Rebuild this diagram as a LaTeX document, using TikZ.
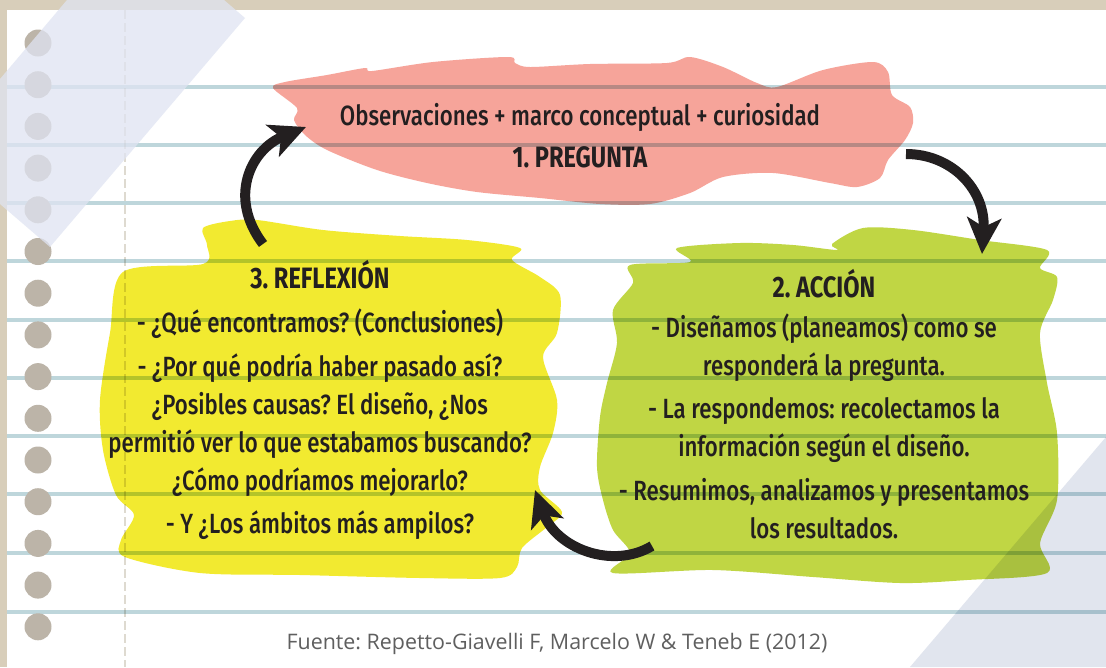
\documentclass[tikz,border=0pt]{standalone}
\usepackage{fontspec}
\usepackage{tikz}
\usetikzlibrary{arrows.meta,positioning}
\setmainfont{Open Sans}
\newfontfamily\handfont{Fira Sans}[FakeStretch=0.8,UprightFont=* Medium,BoldFont=* Bold]
\newcommand{\headline}[1]{{\bfseries\fontsize{29.5}{38}\selectfont #1}}
\frenchspacing
\pgfdeclarelayer{background layer}
\pgfsetlayers{background layer,main}
\definecolor{beige}{RGB}{216,206,186}
\definecolor{ruleline}{RGB}{190,214,219}
\definecolor{marginline}{RGB}{222,218,208}
\definecolor{hole}{RGB}{188,180,168}
\definecolor{pinkblob}{RGB}{246,164,154}
\definecolor{yellowblob}{RGB}{242,234,48}
\definecolor{greenblob}{RGB}{192,214,68}
\definecolor{ink}{RGB}{35,31,32}
\definecolor{tape}{RGB}{224,228,242}
\definecolor{tapetwo}{RGB}{225,229,238}
\definecolor{fuente}{RGB}{95,95,95}

\begin{document}
\begin{tikzpicture}[x=1pt,y=-1pt]
\tikzstyle{boxtext}=[align=center,inner sep=0pt,text=ink,font=\handfont\fontsize{27.8}{38}\selectfont]
\tikzstyle{bigarrow}=[line width=10pt,draw=ink,-{Stealth[length=36pt,width=34pt,inset=9pt]}]
\useasboundingbox (0,0) rectangle (1106,667);
\begin{pgfonlayer}{background layer}
\fill [beige] (0,0) rectangle (1106,667);
\fill [white] (7,10) rectangle (1106,667);
\end{pgfonlayer}
% the three blobs
\fill [pinkblob] plot [smooth cycle] coordinates {(273,88) (285,82) (327,75) (365,68) (372,71) (433,62) (508,57) (515,63) (530,67) (590,64) (667,63) (690,57) (723,67) (757,83) (777,87) (823,70) (873,62) (888,72) (892,95) (910,107) (913,123) (905,140) (888,160) (880,178) (857,187) (830,183) (773,173) (723,177) (690,193) (650,204) (600,204) (540,198) (477,192) (427,183) (377,170) (327,150) (305,135) (294,120) (297,108)};
\fill [yellowblob] plot [smooth cycle] coordinates {(203,228) (230,221) (257,220) (323,230) (400,236) (467,240) (520,248) (512,260) (540,277) (560,295) (557,333) (543,357) (557,400) (553,433) (540,467) (540,490) (562,512) (547,527) (522,548) (517,567) (500,578) (420,578) (300,575) (200,573) (125,557) (121,540) (134,515) (116,495) (103,450) (100,400) (110,333) (123,272) (203,264) (207,245)};
\fill [greenblob] plot [smooth cycle] coordinates {(630,265) (690,262) (677,248) (740,243) (793,245) (837,250) (832,244) (863,228) (913,230) (980,240) (1047,250) (1040,268) (1057,277) (1053,300) (1040,333) (1047,383) (1057,433) (1057,500) (1040,543) (1047,573) (967,580) (900,583) (813,577) (713,570) (613,573) (630,553) (613,530) (603,500) (597,467) (600,417) (607,383) (617,343) (613,310) (633,283)};
% paper lines
\begin{scope}[blend mode=multiply]
\foreach \y in {87,145,203,261,320,378,436,494,553,612}
  \draw [ruleline,line width=4pt] (7,\y) -- (1106,\y);
\draw [marginline,line width=2pt,dash pattern=on 9pt off 4pt] (125,10) -- (125,667);
\end{scope}
\foreach \k in {0,...,14}
  \fill [hole] (38,{43+41.7*\k}) circle (13.5pt);
% texts
\node [boxtext] at (580,136) (pregunta) {Observaciones + marco conceptual + curiosidad\\[4pt]\headline{1. PREGUNTA}};
\node [boxtext] at (824,404) (accion) {\headline{2. ACCIÓN}\\[2pt]
- Diseñamos (planeamos) como se\\
responderá la pregunta.\\[5pt]
- La respondemos: recolectamos la\\
información según el diseño.\\[6pt]
- Resumimos, analizamos y presentamos\\
los resultados.};
\node [boxtext] at (320,400) (reflexion) {\headline{3. REFLEXIÓN}\\[6pt]
- ¿Qué encontramos? (Conclusiones)\\[6pt]
- ¿Por qué podría haber pasado así?\\
¿Posibles causas? El diseño, ¿Nos\\
permitió ver lo que estabamos buscando?\\
¿Cómo podríamos mejorarlo?\\[5pt]
- Y ¿Los ámbitos más ampilos?};
\node [text=fuente,font=\fontsize{21.4}{25}\selectfont] at (557,644) (fuente) {Fuente: Repetto-Giavelli F, Marcelo W \& Teneb E (2012)};
% cycle arrows
\coordinate (refOut) at (263,244);
\coordinate (pregIn) at (306,127);
\coordinate (pregOut) at (906,154);
\coordinate (accIn) at (982,254);
\coordinate (accOut) at (652,546);
\coordinate (refIn) at (535,490);
\draw [bigarrow] (refOut) .. controls (228,198) and (250,150) .. (pregIn);
\draw [bigarrow] (pregOut) .. controls (952,154) and (986,190) .. (accIn);
\draw [bigarrow] (accOut) .. controls (612,570) and (556,548) .. (refIn);
% tapes
\fill [tape,opacity=0.75] (67,0) -- (224,0) -- (245,18) -- (50,247) -- (0,204) -- (0,79) -- cycle;
\begin{scope}[blend mode=multiply]
\fill [tapetwo] (910,667) -- (1106,437) -- (1106,667) -- cycle;
\end{scope}
\end{tikzpicture}
\end{document}
